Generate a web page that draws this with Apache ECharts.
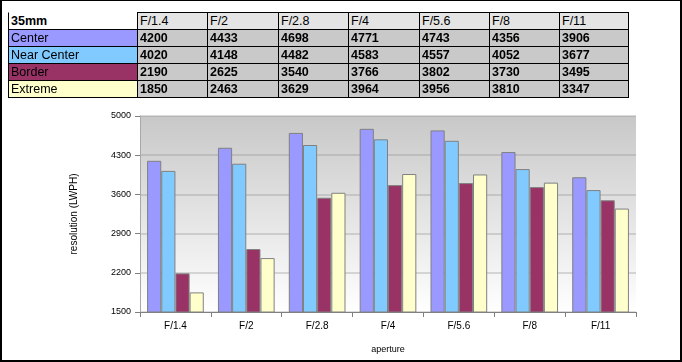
<!DOCTYPE html>
<html>
<head>
<meta charset="utf-8">
<script src="https://cdn.jsdelivr.net/npm/echarts@6/dist/echarts.min.js"></script>
<style>
  html, body { margin:0; padding:0; background:#fff; }
  #wrap { position:relative; width:682px; height:362px; overflow:hidden; font-family:"Liberation Sans", Arial, sans-serif; }
  #chart { position:absolute; left:0; top:0; width:682px; height:362px; }
  #frame { position:absolute; left:0; top:0; width:682px; height:362px; box-sizing:border-box;
           border:2px solid #000; border-top-width:1px; pointer-events:none; z-index:5; }
  .cell { position:absolute; box-sizing:border-box; border:1px solid #000; font-size:12.5px;
          line-height:17px; padding-left:2px; color:#000; white-space:nowrap; overflow:hidden; z-index:3; }
</style>
</head>
<body>
<div id="wrap">
  <div id="chart"></div>
  <div id="table"></div>
  <div id="frame"></div>
</div>
<script>
// ---- data ----
var tableTitle = '35mm';
var categories = ['F/1.4', 'F/2', 'F/2.8', 'F/4', 'F/5.6', 'F/8', 'F/11'];
var seriesNames = ['Center', 'Near Center', 'Border', 'Extreme'];
var center     = [4200, 4433, 4698, 4771, 4743, 4356, 3906];
var nearCenter = [4020, 4148, 4482, 4583, 4557, 4052, 3677];
var border     = [2190, 2625, 3540, 3766, 3802, 3730, 3495];
var extreme    = [1850, 2463, 3629, 3964, 3956, 3810, 3347];
var yMin = 1500, yMax = 5000, yStep = 700;
var yAxisName = 'resolution (LWPH)';
var xAxisName = 'aperture';

// ---- styles ----
var seriesColors = ['#9999ff', '#80caff', '#993366', '#ffffcc'];
var seriesValues = [center, nearCenter, border, extreme];

// ---- table (built from the arrays) ----
(function () {
  var colX = [8, 137, 207, 278, 348, 419, 489, 559, 628];
  var rowY = [12, 29, 46, 63, 80, 97];
  var host = document.getElementById('table');
  function cell(c, r, text, bg, bold, extra) {
    var d = document.createElement('div');
    d.className = 'cell';
    d.style.left = colX[c] + 'px';
    d.style.top = rowY[r] + 'px';
    d.style.width = (colX[c + 1] - colX[c] + 1) + 'px';
    d.style.height = (rowY[r + 1] - rowY[r] + 1) + 'px';
    d.style.background = bg;
    if (bold) d.style.fontWeight = 'bold';
    if (extra) extra(d);
    d.textContent = text;
    host.appendChild(d);
  }
  cell(0, 0, tableTitle, '#ffffff', true, function (d) { d.style.borderTopColor = '#fff'; });
  for (var i = 0; i < categories.length; i++) cell(i + 1, 0, categories[i], '#e4e4e4', false);
  for (var s = 0; s < seriesNames.length; s++) {
    cell(0, s + 1, seriesNames[s], seriesColors[s], false);
    for (var j = 0; j < categories.length; j++) cell(j + 1, s + 1, String(seriesValues[s][j]), '#c9c9c9', true);
  }
})();

// ---- chart ----
var chart = echarts.init(document.getElementById('chart'), null, { renderer: 'canvas' });
var font = '"Liberation Sans", Arial, sans-serif';
chart.setOption({
  animation: false,
  textStyle: { fontFamily: font },
  grid: {
    left: 140, right: 46, top: 116, bottom: 50, show: true, borderWidth: 0,
    backgroundColor: { type: 'linear', x: 0, y: 0, x2: 0, y2: 1,
      colorStops: [{ offset: 0, color: '#c8c8c8' }, { offset: 1, color: '#ffffff' }] }
  },
  xAxis: {
    type: 'category', data: categories,
    name: xAxisName, nameLocation: 'middle', nameGap: 33,
    nameTextStyle: { fontSize: 9, color: '#000', fontFamily: font },
    axisLine: { show: true, lineStyle: { color: '#808080', width: 1 } },
    axisTick: { show: true, length: 5, lineStyle: { color: '#808080' } },
    axisLabel: { fontSize: 10, color: '#000', margin: 9, fontFamily: font },
    splitLine: { show: false }
  },
  yAxis: {
    type: 'value', min: yMin, max: yMax, interval: yStep,
    name: yAxisName, nameLocation: 'middle', nameGap: 61, nameRotate: 90,
    nameTextStyle: { fontSize: 10, color: '#000', fontFamily: font },
    axisLine: { show: true, lineStyle: { color: '#a8a8a8', width: 1 } },
    axisTick: { show: true, length: 5, lineStyle: { color: '#808080' } },
    axisLabel: { fontSize: 9, color: '#000', margin: 9, fontFamily: font,
                 formatter: function (v) { return String(v); } },
    splitLine: { show: true, lineStyle: { color: 'rgba(140,140,140,0.3)', width: 2 } }
  },
  series: seriesNames.map(function (n, i) {
    return {
      name: n, type: 'bar', data: seriesValues[i],
      barGap: '0%', barCategoryGap: '20%',
      itemStyle: { color: seriesColors[i], borderColor: '#808080', borderWidth: 1 }
    };
  })
});
</script>
</body>
</html>
